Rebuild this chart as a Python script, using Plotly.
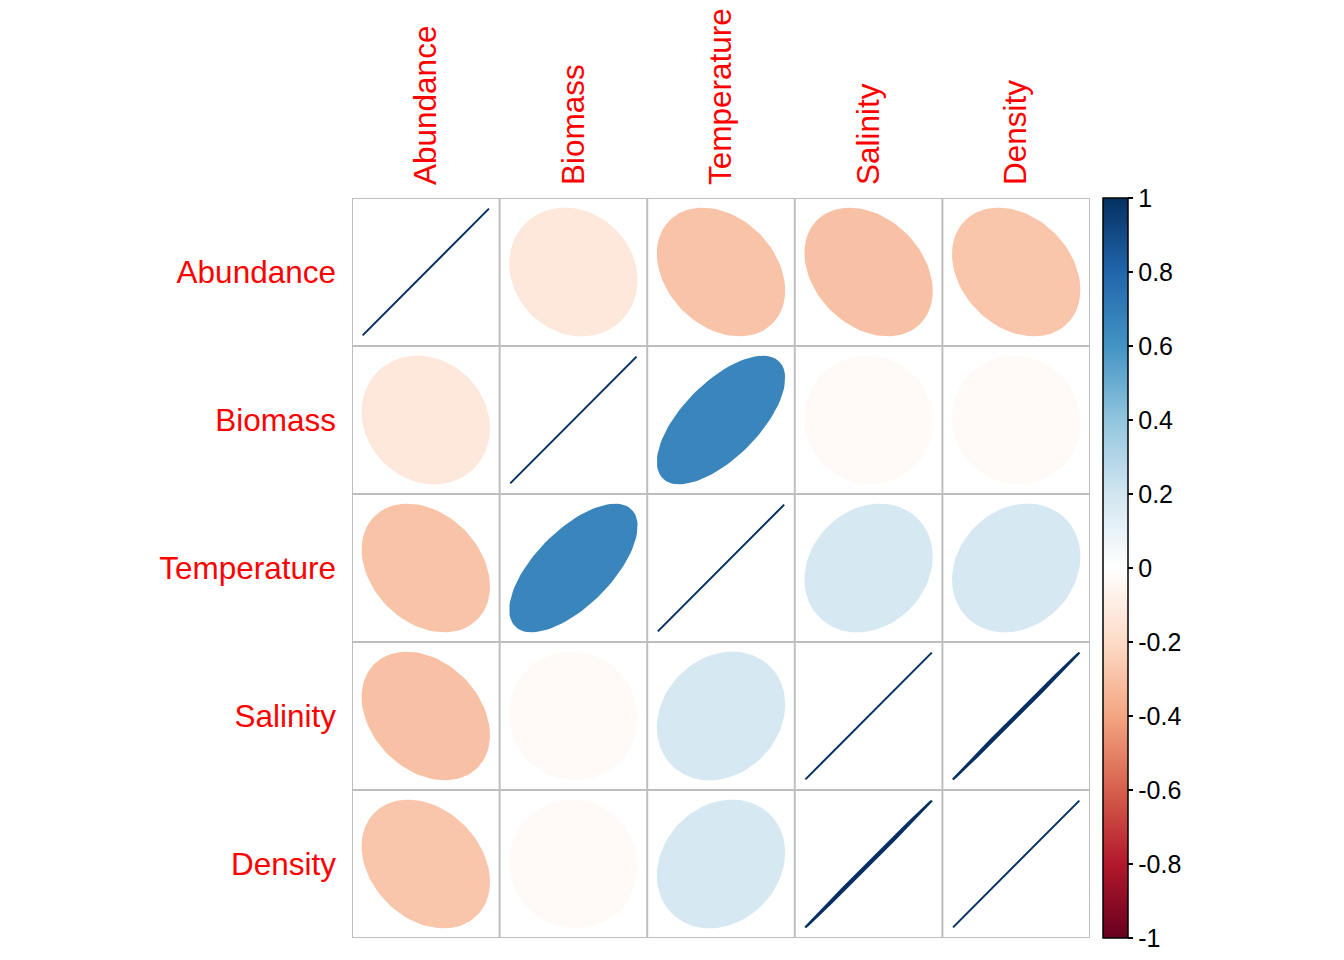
import numpy as np
import plotly.graph_objects as go
from plotly.colors import sample_colorscale

variables = ["Abundance", "Biomass", "Temperature", "Salinity", "Density"]
abundance = [1.00, -0.13, -0.29, -0.30, -0.28]
biomass = [-0.13, 1.00, 0.66, -0.03, -0.03]
temperature = [-0.29, 0.66, 1.00, 0.18, 0.18]
salinity = [-0.30, -0.03, 0.18, 1.00, 0.9996]
density = [-0.28, -0.03, 0.18, 0.9996, 1.00]
corr_rows = [abundance, biomass, temperature, salinity, density]

cbar_ticks = [-1, -0.8, -0.6, -0.4, -0.2, 0, 0.2, 0.4, 0.6, 0.8, 1]

rdbu = ["#67001F", "#B2182B", "#D6604D", "#F4A582", "#FDDBC7", "#FFFFFF",
        "#D1E5F0", "#92C5DE", "#4393C3", "#2166AC", "#053061"]
colorscale = [[i / (len(rdbu) - 1), c] for i, c in enumerate(rdbu)]

FONT = "Liberation Sans, Arial, sans-serif"
SCALE = 0.428


def ellipse(rho, n=99):
    k = np.linspace(0, 2 * np.pi, n)
    d = np.arccos(np.clip(rho, -1, 1)) / 2
    return np.cos(k + d) * SCALE, np.cos(k - d) * SCALE


fig = go.Figure()

for i, row in enumerate(corr_rows):
    for j, r in enumerate(row):
        dx, dy = ellipse(r)
        col = sample_colorscale(colorscale, [(r + 1) / 2])[0]
        fig.add_trace(go.Scatter(
            x=(j + 1) + dx, y=(i + 1) - dy, mode="lines", fill="toself",
            fillcolor=col, line=dict(color=col, width=2),
            hoverinfo="skip", showlegend=False))

# dummy trace for the colour bar
fig.add_trace(go.Scatter(
    x=[1], y=[1], mode="markers", hoverinfo="skip", showlegend=False,
    marker=dict(size=1, opacity=0, color=[0], cmin=-1, cmax=1,
                colorscale=colorscale, showscale=True,
                colorbar=dict(x=(1103 - 352) / 738, xanchor="left", xpad=0,
                              y=0.5, yanchor="middle", len=1, ypad=0,
                              thickness=25, outlinewidth=1.5, outlinecolor="black",
                              ticks="outside", ticklen=5, tickcolor="black",
                              tickwidth=1.5, tickvals=cbar_ticks,
                              ticktext=[f"{t:g}" for t in cbar_ticks],
                              tickfont=dict(size=25, color="black", family=FONT)))))

# grid
n = len(variables)
for k in range(n + 1):
    p = k + 0.5
    fig.add_shape(type="line", x0=p, x1=p, y0=0.5, y1=n + 0.5,
                  line=dict(color="#BEBEBE", width=2))
    fig.add_shape(type="line", x0=0.5, x1=n + 0.5, y0=p, y1=p,
                  line=dict(color="#BEBEBE", width=2))

fig.update_xaxes(range=[0.5, n + 0.5], side="top", tickvals=list(range(1, n + 1)),
                 ticktext=variables, tickangle=-90, ticks="", showgrid=False,
                 zeroline=False, showline=False, ticklabelstandoff=12,
                 tickfont=dict(size=31.5, color="red", family=FONT))
fig.update_yaxes(range=[n + 0.5, 0.5], tickvals=list(range(1, n + 1)),
                 ticktext=variables, ticks="", showgrid=False,
                 zeroline=False, showline=False, ticklabelstandoff=15,
                 tickfont=dict(size=31.5, color="red", family=FONT))

# page body has an 8px margin, so offset the figure margins by that
fig.update_layout(width=1344, height=960, plot_bgcolor="white", paper_bgcolor="white",
                  margin=dict(l=344, r=262, t=190, b=30, autoexpand=False),
                  font=dict(family=FONT))

fig.write_html("out.html")
